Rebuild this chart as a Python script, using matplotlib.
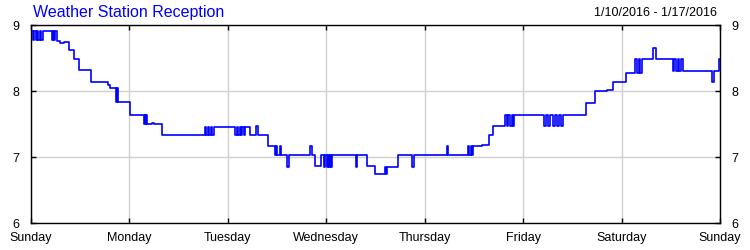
import matplotlib
matplotlib.use('Agg')
import matplotlib.pyplot as plt

plt.rcParams['font.family'] = ['Liberation Sans', 'DejaVu Sans']

title = 'Weather Station Reception'
date_range = '1/10/2016 - 1/17/2016'
days = ['Sunday', 'Monday', 'Tuesday', 'Wednesday', 'Thursday', 'Friday', 'Saturday', 'Sunday']
y_ticks = [6, 7, 8, 9]

# hours since Sunday 00:00, reception level (step changes)
hours = [0.0, 0.6, 0.9, 1.2, 1.5, 1.8, 2.2, 2.5, 2.9,
         5.1, 5.4, 5.7, 6.0, 6.3, 7.1, 8.2, 9.3, 10.6, 11.8, 14.6,
         18.9, 19.2, 20.8, 21.0, 21.2, 24.1,
         27.6, 27.8, 28.0, 28.2, 28.4, 29.5, 30.0, 32.1,
         42.5, 42.8, 43.2, 43.5, 43.9, 44.3, 44.7,
         49.8, 50.2, 50.5, 50.9, 51.2, 51.6, 52.0, 52.3, 53.4,
         55.0, 55.4, 57.9, 59.5, 59.7, 59.9, 60.8, 61.0, 62.4, 63.0,
         68.1, 68.6, 69.3, 70.7,
         71.5, 71.8, 72.1, 72.4, 72.6, 72.9, 73.1, 73.4,
         79.3, 79.6, 81.9, 83.9, 85.7, 86.3, 86.5, 86.8, 89.6,
         93.0, 93.3, 101.4, 101.6,
         106.6, 106.9, 107.2, 107.5, 107.8, 109.9, 111.7, 112.7,
         115.6, 116.0, 116.4, 116.8, 117.2, 117.5, 117.8,
         125.1, 125.5, 126.0, 126.5, 127.3, 127.8, 128.3, 128.8, 129.3, 129.7,
         135.3, 137.5, 140.5, 142.0, 145.2,
         147.4, 147.8, 148.2, 148.6, 149.0, 151.6, 152.5,
         156.6, 156.9, 157.3, 157.7, 158.1, 158.5, 159.0,
         166.0, 166.5, 167.8, 168.0]
level = [8.91, 8.78, 8.91, 8.78, 8.91, 8.78, 8.91, 8.78, 8.91,
         8.78, 8.91, 8.78, 8.91, 8.76, 8.73, 8.75, 8.62, 8.48, 8.32, 8.14,
         8.09, 8.05, 7.83, 8.05, 7.83, 7.63,
         7.50, 7.63, 7.50, 7.63, 7.50, 7.52, 7.50, 7.33,
         7.46, 7.33, 7.46, 7.33, 7.46, 7.33, 7.46,
         7.33, 7.46, 7.33, 7.46, 7.33, 7.46, 7.33, 7.46, 7.33,
         7.47, 7.33, 7.17, 7.03, 7.17, 7.03, 7.17, 7.03, 6.85, 7.03,
         7.17, 7.03, 6.87, 7.03,
         6.85, 7.03, 6.85, 7.03, 6.85, 7.03, 6.85, 7.03,
         6.85, 7.03, 6.87, 6.75, 6.74, 6.85, 6.74, 6.85, 7.03,
         6.85, 7.03, 7.17, 7.03,
         7.17, 7.03, 7.17, 7.03, 7.17, 7.18, 7.33, 7.47,
         7.63, 7.47, 7.63, 7.47, 7.63, 7.47, 7.63,
         7.47, 7.63, 7.47, 7.63, 7.47, 7.63, 7.47, 7.63, 7.47, 7.63,
         7.82, 8.00, 8.02, 8.13, 8.28,
         8.49, 8.28, 8.49, 8.28, 8.49, 8.65, 8.49,
         8.30, 8.49, 8.30, 8.49, 8.30, 8.49, 8.30,
         8.13, 8.30, 8.49, 8.49]

fig = plt.figure(figsize=(7.5, 2.5), dpi=100)
ax = fig.add_axes([0.041, 0.108, 0.919, 0.792])

ax.plot(hours, level, drawstyle='steps-post', color='#0000ff', lw=1.2)

ax.set_xlim(0, 168)
ax.set_ylim(6, 9)
ax.set_xticks(range(0, 169, 24))
ax.set_xticklabels(days)
ax.set_yticks(y_ticks)
ax.grid(True, color='#d0d0d0', lw=1)
ax.tick_params(direction='in', length=3.6, width=1, top=True, right=True,
               labelright=True, labelsize=9)
ax.tick_params(axis='x', pad=6.5)
ax.tick_params(axis='y', pad=8)
for s in ax.spines.values():
    s.set_linewidth(1)

fig.text(0.044, 0.95, title, color='#0000ff', fontsize=11.5, va='center', ha='left')
fig.text(0.956, 0.948, date_range, color='black', fontsize=9, va='center', ha='right')

fig.savefig('out.png', dpi=100)
